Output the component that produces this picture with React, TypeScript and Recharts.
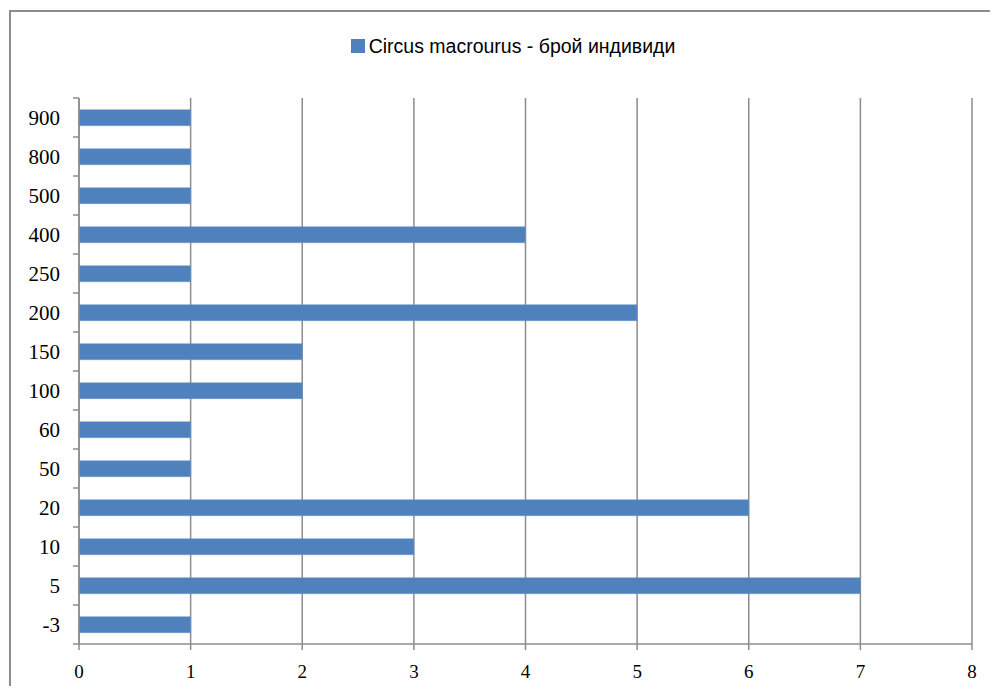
import React from 'react';
import { BarChart, Bar, XAxis, YAxis, CartesianGrid, Legend } from 'recharts';

const categories = ['-3', '5', '10', '20', '50', '60', '100', '150', '200', '250', '400', '500', '800', '900'];
const counts = [1, 7, 3, 6, 1, 1, 2, 2, 5, 1, 4, 1, 1, 1];
const xTicks = [0, 1, 2, 3, 4, 5, 6, 7, 8];
const seriesName = 'Circus macrourus - брой индивиди';

const data = categories.map((name, i) => ({ name, count: counts[i] }));

const W = 998;
const H = 694;
const PLOT_TOP = 98;
const PLOT_BOTTOM = 644;
const PLOT_LEFT = 79;
const PLOT_RIGHT = 972;
const LEGEND_H = 20;
const band = (PLOT_BOTTOM - PLOT_TOP) / categories.length;

// Excel style: tick marks sit between categories, not on them
function CategoryTick(props: any) {
  const { y, payload, index } = props;
  const ax = PLOT_LEFT;
  return (
    <g>
      <line x1={ax - 6} x2={ax} y1={y + band / 2} y2={y + band / 2} stroke="#8c8c8c" strokeWidth={1.5} />
      {index === categories.length - 1 && (
        <line x1={ax - 6} x2={ax} y1={y - band / 2} y2={y - band / 2} stroke="#8c8c8c" strokeWidth={1.5} />
      )}
      <text
        x={ax - 19}
        y={y}
        dy={7}
        textAnchor="end"
        fontFamily="'Liberation Serif', serif"
        fontSize={21}
        fill="#000"
      >
        {payload.value}
      </text>
    </g>
  );
}

function LegendContent() {
  return (
    <div style={{ height: LEGEND_H, display: 'flex', justifyContent: 'center', alignItems: 'center', fontFamily: "'Liberation Sans', Arial, sans-serif", fontSize: 19.5, color: '#000', paddingLeft: 28 }}>
      <span style={{ display: 'inline-block', width: 14, height: 14, background: '#4f81bd', marginRight: 4 }} />
      <span>{seriesName}</span>
    </div>
  );
}

export default function App() {
  return (
    <div style={{ margin: -8, position: 'relative', width: W, height: H, background: '#fff', overflow: 'hidden' }}>
      <div
        style={{
          position: 'absolute',
          left: 9,
          top: 10,
          width: W,
          height: H,
          borderLeft: '2px solid #8c8c8c',
          borderTop: '2px solid #8c8c8c',
        }}
      />
      <BarChart
        width={W}
        height={H}
        data={data}
        layout="vertical"
        margin={{ top: PLOT_TOP - LEGEND_H, right: W - PLOT_RIGHT, bottom: 10, left: 9 }}
        barCategoryGap="30%"
        style={{ position: 'absolute', left: 0, top: 0 }}
      >
        <CartesianGrid horizontal={false} stroke="#8c8c8c" strokeWidth={1.5} />
        <XAxis
          type="number"
          domain={[0, 8]}
          ticks={xTicks}
          interval={0}
          height={H - PLOT_BOTTOM - 10}
          axisLine={{ stroke: '#8c8c8c', strokeWidth: 1.5 }}
          tickLine={{ stroke: '#8c8c8c', strokeWidth: 1.5 }}
          tickSize={6}
          tickMargin={15}
          tick={{ fontFamily: "'Liberation Serif', serif", fontSize: 19, fill: '#000' }}
        />
        <YAxis
          type="category"
          dataKey="name"
          reversed
          width={PLOT_LEFT - 9}
          interval={0}
          axisLine={{ stroke: '#8c8c8c', strokeWidth: 1.5 }}
          tickLine={false}
          tick={<CategoryTick />}
        />
        <Legend
          verticalAlign="top"
          align="center"
          content={<LegendContent />}
          wrapperStyle={{ top: 36, left: 0, width: W }}
        />
        <Bar dataKey="count" name={seriesName} fill="#4f81bd" stroke="#6d98cc" strokeWidth={0.5} isAnimationActive={false} />
      </BarChart>
    </div>
  );
}
